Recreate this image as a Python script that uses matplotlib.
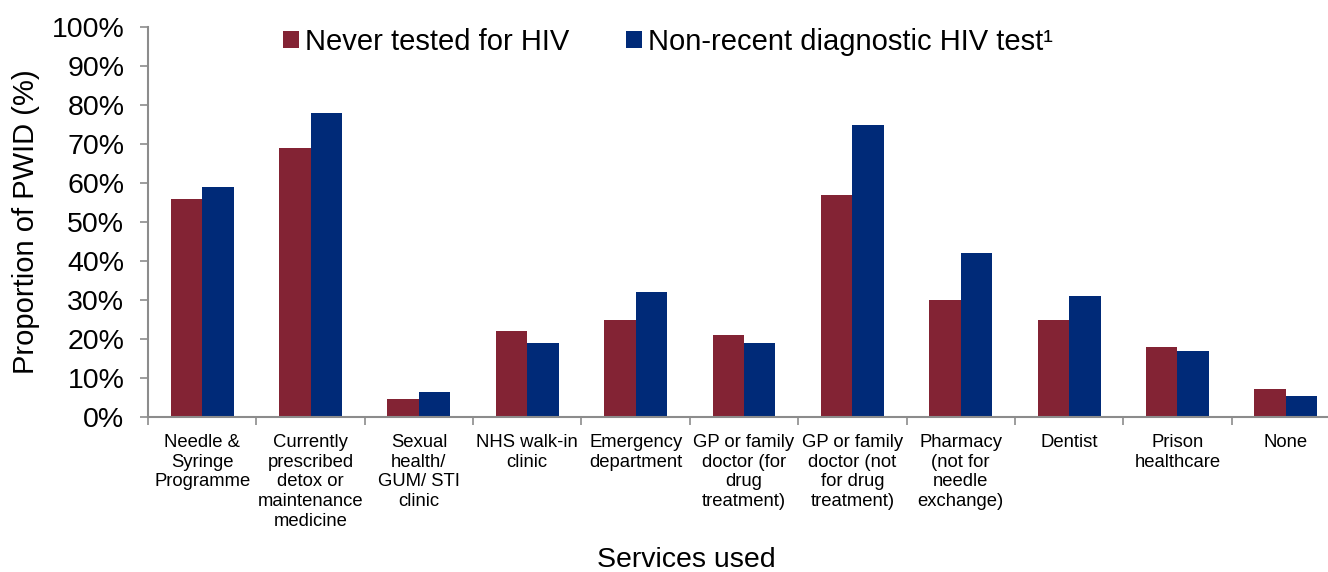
import numpy as np
import matplotlib
matplotlib.use('Agg')
import matplotlib.pyplot as plt
from matplotlib.ticker import FuncFormatter

plt.rcParams['font.family'] = ['Liberation Sans', 'DejaVu Sans']

categories = ['Needle &\nSyringe\nProgramme',
              'Currently\nprescribed\ndetox or\nmaintenance\nmedicine',
              'Sexual\nhealth/\nGUM/ STI\nclinic',
              'NHS walk-in\nclinic',
              'Emergency\ndepartment',
              'GP or family\ndoctor (for\ndrug\ntreatment)',
              'GP or family\ndoctor (not\nfor drug\ntreatment)',
              'Pharmacy\n(not for\nneedle\nexchange)',
              'Dentist',
              'Prison\nhealthcare',
              'None']
never_tested = [56, 69, 4.5, 22, 25, 21, 57, 30, 25, 18, 7.3]
non_recent = [59, 78, 6.5, 19, 32, 19, 75, 42, 31, 17, 5.3]

red = '#832334'
blue = '#002a78'
grey = '#8c8c8c'

fig = plt.figure(figsize=(13.28, 5.72), dpi=100)
ax = fig.add_axes([148 / 1328, 1 - 417 / 572, 1192 / 1328, 390 / 572])

x = np.arange(len(categories))
w = 0.29
ax.bar(x - w / 2, never_tested, w, color=red, label='Never tested for HIV')
ax.bar(x + w / 2, non_recent, w, color=blue, label='Non-recent diagnostic HIV test\u00b9')

ax.set_xlim(-0.5, len(categories) - 0.5)
ax.set_ylim(0, 100)
ax.set_yticks(np.arange(0, 101, 10))
ax.yaxis.set_major_formatter(FuncFormatter(lambda v, p: f'{v:.0f}%'))
ax.tick_params(axis='y', labelsize=20.5, length=6, color=grey, width=1.2, pad=11)

# ticks between categories, labels at centres
ax.set_xticks(np.arange(-0.5, len(categories), 1))
ax.set_xticklabels([])
ax.set_xticks(x, minor=True)
ax.set_xticklabels(categories, minor=True, fontsize=13.3, linespacing=1.22, va='top')
ax.tick_params(axis='x', which='major', length=6, color=grey, width=1.2)
ax.tick_params(axis='x', which='minor', length=0, pad=12)

for s in ['top', 'right']:
    ax.spines[s].set_visible(False)
for s in ['left', 'bottom']:
    ax.spines[s].set_color(grey)
    ax.spines[s].set_linewidth(1.5)

fig.text(26 / 1328, 1 - 222 / 572, 'Proportion of PWID (%)', fontsize=21,
         rotation=90, ha='center', va='center')
fig.text(686 / 1328, 1 - 560 / 572, 'Services used', fontsize=20.5, ha='center', va='center')

ax.legend(loc='center left', bbox_to_anchor=(283 / 1328, 1 - 42 / 572),
          bbox_transform=fig.transFigure, ncol=2, frameon=False, fontsize=21,
          handlelength=0.55, handleheight=0.55, handletextpad=0.2,
          columnspacing=1.95, borderpad=0, borderaxespad=0)

fig.savefig('out.png', dpi=100)
